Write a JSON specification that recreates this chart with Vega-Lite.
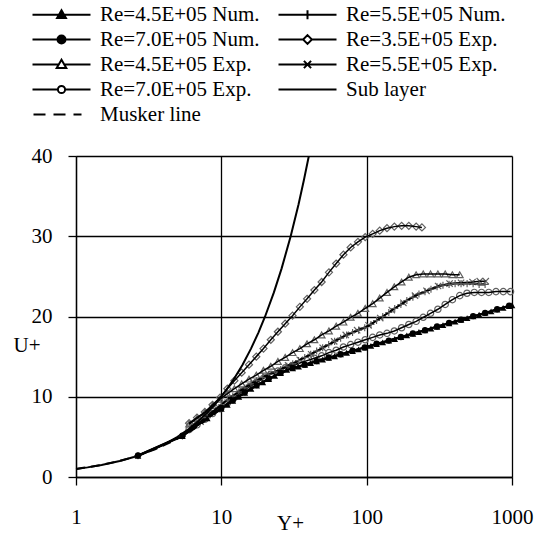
{
  "$schema": "https://vega.github.io/schema/vega-lite/v6.json",
  "autosize": {"type": "none"},
  "padding": {"left": 76, "top": 156, "right": 39, "bottom": 56},
  "width": 436,
  "height": 321,
  "background": "white",
  "config": {
    "view": {"stroke": null},
    "font": "'Liberation Serif', 'Times New Roman', serif",
    "legend": {
      "title": null, "orient": "none", "legendX": -44, "legendY": -152, "columns": 2, "direction": "horizontal",
      "symbolSize": 64, "symbolOffset": 19, "labelOffset": 28, "rowPadding": 3, "columnPadding": 14, "padding": 0,
      "symbolStrokeColor": "black", "symbolStrokeWidth": 2,
      "labelFont": "'Liberation Serif', 'Times New Roman', serif", "labelFontSize": 21, "labelColor": "black", "labelLimit": 0
    }
  },
  "datasets": {
    "curves": [
      {"s": "Sub layer", "x": 1, "u": 1}, {"s": "Sub layer", "x": 1.2, "u": 1.2}, {"s": "Sub layer", "x": 1.5, "u": 1.5}, {"s": "Sub layer", "x": 2, "u": 2}, {"s": "Sub layer", "x": 2.5, "u": 2.5}, {"s": "Sub layer", "x": 3, "u": 3}, {"s": "Sub layer", "x": 4, "u": 4}, {"s": "Sub layer", "x": 5, "u": 5}, {"s": "Sub layer", "x": 6, "u": 6}, {"s": "Sub layer", "x": 7, "u": 7}, {"s": "Sub layer", "x": 8, "u": 8}, {"s": "Sub layer", "x": 9, "u": 9}, {"s": "Sub layer", "x": 10, "u": 10}, {"s": "Sub layer", "x": 12, "u": 12}, {"s": "Sub layer", "x": 14, "u": 14}, {"s": "Sub layer", "x": 16, "u": 16}, {"s": "Sub layer", "x": 18, "u": 18}, {"s": "Sub layer", "x": 20, "u": 20}, {"s": "Sub layer", "x": 23, "u": 23}, {"s": "Sub layer", "x": 26, "u": 26}, {"s": "Sub layer", "x": 30, "u": 30}, {"s": "Sub layer", "x": 34, "u": 34}, {"s": "Sub layer", "x": 37, "u": 37}, {"s": "Sub layer", "x": 40, "u": 40},

      {"s": "Musker line", "x": 1, "u": 1.0}, {"s": "Musker line", "x": 1.5, "u": 1.5}, {"s": "Musker line", "x": 2, "u": 2.0}, {"s": "Musker line", "x": 2.67, "u": 2.65}, {"s": "Musker line", "x": 3.5, "u": 3.45}, {"s": "Musker line", "x": 4.5, "u": 4.35}, {"s": "Musker line", "x": 5.4, "u": 5.1}, {"s": "Musker line", "x": 6.5, "u": 6.0}, {"s": "Musker line", "x": 8, "u": 7.2}, {"s": "Musker line", "x": 10, "u": 8.5}, {"s": "Musker line", "x": 13.2, "u": 10.0}, {"s": "Musker line", "x": 17.5, "u": 11.4}, {"s": "Musker line", "x": 23.3, "u": 12.6}, {"s": "Musker line", "x": 31, "u": 13.55}, {"s": "Musker line", "x": 41.2, "u": 14.2}, {"s": "Musker line", "x": 54.8, "u": 14.84}, {"s": "Musker line", "x": 72.8, "u": 15.48}, {"s": "Musker line", "x": 97, "u": 16.13}, {"s": "Musker line", "x": 129, "u": 16.78}, {"s": "Musker line", "x": 172, "u": 17.43}, {"s": "Musker line", "x": 229, "u": 18.07}, {"s": "Musker line", "x": 305, "u": 18.72}, {"s": "Musker line", "x": 406, "u": 19.37}, {"s": "Musker line", "x": 540, "u": 20.01}, {"s": "Musker line", "x": 718, "u": 20.65}, {"s": "Musker line", "x": 956, "u": 21.3}, {"s": "Musker line", "x": 1000, "u": 21.4},

      {"s": "Re=4.5E+05 Num.", "x": 2.67, "u": 2.65}, {"s": "Re=4.5E+05 Num.", "x": 5.4, "u": 5.1}, {"s": "Re=4.5E+05 Num.", "x": 8, "u": 7.3}, {"s": "Re=4.5E+05 Num.", "x": 10, "u": 8.5}, {"s": "Re=4.5E+05 Num.", "x": 11, "u": 9.0}, {"s": "Re=4.5E+05 Num.", "x": 12, "u": 9.5}, {"s": "Re=4.5E+05 Num.", "x": 13.2, "u": 10.0}, {"s": "Re=4.5E+05 Num.", "x": 14.5, "u": 10.5}, {"s": "Re=4.5E+05 Num.", "x": 16, "u": 11.0}, {"s": "Re=4.5E+05 Num.", "x": 17.5, "u": 11.4}, {"s": "Re=4.5E+05 Num.", "x": 19.3, "u": 11.8}, {"s": "Re=4.5E+05 Num.", "x": 21.2, "u": 12.2}, {"s": "Re=4.5E+05 Num.", "x": 23.3, "u": 12.6}, {"s": "Re=4.5E+05 Num.", "x": 25.6, "u": 12.95}, {"s": "Re=4.5E+05 Num.", "x": 28.2, "u": 13.34}, {"s": "Re=4.5E+05 Num.", "x": 31, "u": 13.55}, {"s": "Re=4.5E+05 Num.", "x": 34, "u": 13.76}, {"s": "Re=4.5E+05 Num.", "x": 37.5, "u": 13.98}, {"s": "Re=4.5E+05 Num.", "x": 41.2, "u": 14.2}, {"s": "Re=4.5E+05 Num.", "x": 45.3, "u": 14.41}, {"s": "Re=4.5E+05 Num.", "x": 49.8, "u": 14.63}, {"s": "Re=4.5E+05 Num.", "x": 54.8, "u": 14.84}, {"s": "Re=4.5E+05 Num.", "x": 60.2, "u": 15.05}, {"s": "Re=4.5E+05 Num.", "x": 66.2, "u": 15.27}, {"s": "Re=4.5E+05 Num.", "x": 72.8, "u": 15.48}, {"s": "Re=4.5E+05 Num.", "x": 80, "u": 15.7}, {"s": "Re=4.5E+05 Num.", "x": 88, "u": 15.91}, {"s": "Re=4.5E+05 Num.", "x": 97, "u": 16.13}, {"s": "Re=4.5E+05 Num.", "x": 107, "u": 16.35}, {"s": "Re=4.5E+05 Num.", "x": 117, "u": 16.55}, {"s": "Re=4.5E+05 Num.", "x": 129, "u": 16.78}, {"s": "Re=4.5E+05 Num.", "x": 142, "u": 16.99}, {"s": "Re=4.5E+05 Num.", "x": 156, "u": 17.2}, {"s": "Re=4.5E+05 Num.", "x": 172, "u": 17.43}, {"s": "Re=4.5E+05 Num.", "x": 189, "u": 17.64}, {"s": "Re=4.5E+05 Num.", "x": 208, "u": 17.85}, {"s": "Re=4.5E+05 Num.", "x": 229, "u": 18.07}, {"s": "Re=4.5E+05 Num.", "x": 252, "u": 18.29}, {"s": "Re=4.5E+05 Num.", "x": 277, "u": 18.5}, {"s": "Re=4.5E+05 Num.", "x": 305, "u": 18.72}, {"s": "Re=4.5E+05 Num.", "x": 335, "u": 18.93}, {"s": "Re=4.5E+05 Num.", "x": 369, "u": 19.15}, {"s": "Re=4.5E+05 Num.", "x": 406, "u": 19.37}, {"s": "Re=4.5E+05 Num.", "x": 446, "u": 19.58}, {"s": "Re=4.5E+05 Num.", "x": 491, "u": 19.79}, {"s": "Re=4.5E+05 Num.", "x": 540, "u": 20.01}, {"s": "Re=4.5E+05 Num.", "x": 594, "u": 20.22}, {"s": "Re=4.5E+05 Num.", "x": 653, "u": 20.44}, {"s": "Re=4.5E+05 Num.", "x": 718, "u": 20.65}, {"s": "Re=4.5E+05 Num.", "x": 790, "u": 20.87}, {"s": "Re=4.5E+05 Num.", "x": 869, "u": 21.08}, {"s": "Re=4.5E+05 Num.", "x": 956, "u": 21.3}, {"s": "Re=4.5E+05 Num.", "x": 1000, "u": 21.4},

      {"s": "Re=7.0E+05 Num.", "x": 2.67, "u": 2.7}, {"s": "Re=7.0E+05 Num.", "x": 5.4, "u": 5.15}, {"s": "Re=7.0E+05 Num.", "x": 10, "u": 8.6}, {"s": "Re=7.0E+05 Num.", "x": 12, "u": 9.55}, {"s": "Re=7.0E+05 Num.", "x": 14.5, "u": 10.55}, {"s": "Re=7.0E+05 Num.", "x": 17.5, "u": 11.45}, {"s": "Re=7.0E+05 Num.", "x": 21.2, "u": 12.25}, {"s": "Re=7.0E+05 Num.", "x": 25.6, "u": 13.0}, {"s": "Re=7.0E+05 Num.", "x": 31, "u": 13.6}, {"s": "Re=7.0E+05 Num.", "x": 37.5, "u": 14.0}, {"s": "Re=7.0E+05 Num.", "x": 45.3, "u": 14.45}, {"s": "Re=7.0E+05 Num.", "x": 54.8, "u": 14.9}, {"s": "Re=7.0E+05 Num.", "x": 66.2, "u": 15.3}, {"s": "Re=7.0E+05 Num.", "x": 80, "u": 15.75}, {"s": "Re=7.0E+05 Num.", "x": 97, "u": 16.15}, {"s": "Re=7.0E+05 Num.", "x": 117, "u": 16.6}, {"s": "Re=7.0E+05 Num.", "x": 142, "u": 17.0}, {"s": "Re=7.0E+05 Num.", "x": 172, "u": 17.45}, {"s": "Re=7.0E+05 Num.", "x": 208, "u": 17.9}, {"s": "Re=7.0E+05 Num.", "x": 252, "u": 18.3}, {"s": "Re=7.0E+05 Num.", "x": 305, "u": 18.75}, {"s": "Re=7.0E+05 Num.", "x": 369, "u": 19.2}, {"s": "Re=7.0E+05 Num.", "x": 446, "u": 19.6}, {"s": "Re=7.0E+05 Num.", "x": 540, "u": 20.05}, {"s": "Re=7.0E+05 Num.", "x": 653, "u": 20.45}, {"s": "Re=7.0E+05 Num.", "x": 790, "u": 20.9}, {"s": "Re=7.0E+05 Num.", "x": 956, "u": 21.35},

      {"s": "Re=5.5E+05 Num.", "x": 2.67, "u": 2.65}, {"s": "Re=5.5E+05 Num.", "x": 5.4, "u": 5.1}, {"s": "Re=5.5E+05 Num.", "x": 8, "u": 7.4}, {"s": "Re=5.5E+05 Num.", "x": 10, "u": 9.0}, {"s": "Re=5.5E+05 Num.", "x": 11, "u": 9.6}, {"s": "Re=5.5E+05 Num.", "x": 12, "u": 10.1}, {"s": "Re=5.5E+05 Num.", "x": 13.2, "u": 10.6}, {"s": "Re=5.5E+05 Num.", "x": 14.5, "u": 11.1}, {"s": "Re=5.5E+05 Num.", "x": 16, "u": 11.6}, {"s": "Re=5.5E+05 Num.", "x": 17.5, "u": 12.0}, {"s": "Re=5.5E+05 Num.", "x": 19.3, "u": 12.4}, {"s": "Re=5.5E+05 Num.", "x": 21.2, "u": 12.8}, {"s": "Re=5.5E+05 Num.", "x": 23.3, "u": 13.1}, {"s": "Re=5.5E+05 Num.", "x": 25.6, "u": 13.4}, {"s": "Re=5.5E+05 Num.", "x": 28.2, "u": 13.8}, {"s": "Re=5.5E+05 Num.", "x": 31, "u": 14.1}, {"s": "Re=5.5E+05 Num.", "x": 34, "u": 14.5}, {"s": "Re=5.5E+05 Num.", "x": 37.5, "u": 14.9}, {"s": "Re=5.5E+05 Num.", "x": 41.2, "u": 15.3}, {"s": "Re=5.5E+05 Num.", "x": 45.3, "u": 15.7}, {"s": "Re=5.5E+05 Num.", "x": 49.8, "u": 16.1}, {"s": "Re=5.5E+05 Num.", "x": 54.8, "u": 16.5}, {"s": "Re=5.5E+05 Num.", "x": 60.2, "u": 16.9}, {"s": "Re=5.5E+05 Num.", "x": 66.2, "u": 17.3}, {"s": "Re=5.5E+05 Num.", "x": 72.8, "u": 17.7}, {"s": "Re=5.5E+05 Num.", "x": 80, "u": 18.0}, {"s": "Re=5.5E+05 Num.", "x": 88, "u": 18.3}, {"s": "Re=5.5E+05 Num.", "x": 97, "u": 18.6}, {"s": "Re=5.5E+05 Num.", "x": 107, "u": 19.0}, {"s": "Re=5.5E+05 Num.", "x": 117, "u": 19.5}, {"s": "Re=5.5E+05 Num.", "x": 129, "u": 20.0}, {"s": "Re=5.5E+05 Num.", "x": 142, "u": 20.5}, {"s": "Re=5.5E+05 Num.", "x": 156, "u": 21.0}, {"s": "Re=5.5E+05 Num.", "x": 172, "u": 21.5}, {"s": "Re=5.5E+05 Num.", "x": 189, "u": 22.0}, {"s": "Re=5.5E+05 Num.", "x": 208, "u": 22.4}, {"s": "Re=5.5E+05 Num.", "x": 229, "u": 22.8}, {"s": "Re=5.5E+05 Num.", "x": 252, "u": 23.1}, {"s": "Re=5.5E+05 Num.", "x": 277, "u": 23.4}, {"s": "Re=5.5E+05 Num.", "x": 305, "u": 23.7}, {"s": "Re=5.5E+05 Num.", "x": 335, "u": 23.9}, {"s": "Re=5.5E+05 Num.", "x": 369, "u": 24.0}, {"s": "Re=5.5E+05 Num.", "x": 406, "u": 24.1}, {"s": "Re=5.5E+05 Num.", "x": 446, "u": 24.1}, {"s": "Re=5.5E+05 Num.", "x": 491, "u": 24.1}, {"s": "Re=5.5E+05 Num.", "x": 540, "u": 24.1}, {"s": "Re=5.5E+05 Num.", "x": 594, "u": 24.0}, {"s": "Re=5.5E+05 Num.", "x": 653, "u": 24.0},

      {"s": "Re=3.5E+05 Exp.", "x": 6.0, "u": 6.7}, {"s": "Re=3.5E+05 Exp.", "x": 6.8, "u": 7.4}, {"s": "Re=3.5E+05 Exp.", "x": 7.7, "u": 8.1}, {"s": "Re=3.5E+05 Exp.", "x": 8.7, "u": 9.0}, {"s": "Re=3.5E+05 Exp.", "x": 9.8, "u": 9.9}, {"s": "Re=3.5E+05 Exp.", "x": 11.0, "u": 11.0}, {"s": "Re=3.5E+05 Exp.", "x": 12.3, "u": 12.0}, {"s": "Re=3.5E+05 Exp.", "x": 13.8, "u": 13.0}, {"s": "Re=3.5E+05 Exp.", "x": 15.5, "u": 14.0}, {"s": "Re=3.5E+05 Exp.", "x": 17.4, "u": 15.0}, {"s": "Re=3.5E+05 Exp.", "x": 19.5, "u": 16.0}, {"s": "Re=3.5E+05 Exp.", "x": 21.9, "u": 17.1}, {"s": "Re=3.5E+05 Exp.", "x": 24.5, "u": 18.1}, {"s": "Re=3.5E+05 Exp.", "x": 27.5, "u": 19.1}, {"s": "Re=3.5E+05 Exp.", "x": 30.9, "u": 20.1}, {"s": "Re=3.5E+05 Exp.", "x": 34.7, "u": 21.2}, {"s": "Re=3.5E+05 Exp.", "x": 38.9, "u": 22.2}, {"s": "Re=3.5E+05 Exp.", "x": 43.7, "u": 23.3}, {"s": "Re=3.5E+05 Exp.", "x": 49.0, "u": 24.3}, {"s": "Re=3.5E+05 Exp.", "x": 55.0, "u": 25.5}, {"s": "Re=3.5E+05 Exp.", "x": 61.7, "u": 26.6}, {"s": "Re=3.5E+05 Exp.", "x": 69.2, "u": 27.7}, {"s": "Re=3.5E+05 Exp.", "x": 77.6, "u": 28.6}, {"s": "Re=3.5E+05 Exp.", "x": 87.1, "u": 29.3}, {"s": "Re=3.5E+05 Exp.", "x": 97.7, "u": 29.9}, {"s": "Re=3.5E+05 Exp.", "x": 110, "u": 30.3}, {"s": "Re=3.5E+05 Exp.", "x": 123, "u": 30.7}, {"s": "Re=3.5E+05 Exp.", "x": 138, "u": 31.0}, {"s": "Re=3.5E+05 Exp.", "x": 155, "u": 31.2}, {"s": "Re=3.5E+05 Exp.", "x": 174, "u": 31.3}, {"s": "Re=3.5E+05 Exp.", "x": 195, "u": 31.3}, {"s": "Re=3.5E+05 Exp.", "x": 219, "u": 31.2}, {"s": "Re=3.5E+05 Exp.", "x": 240, "u": 31.1},

      {"s": "Re=4.5E+05 Exp.", "x": 6.0, "u": 6.6}, {"s": "Re=4.5E+05 Exp.", "x": 6.8, "u": 7.3}, {"s": "Re=4.5E+05 Exp.", "x": 7.7, "u": 8.0}, {"s": "Re=4.5E+05 Exp.", "x": 8.7, "u": 8.9}, {"s": "Re=4.5E+05 Exp.", "x": 9.8, "u": 9.7}, {"s": "Re=4.5E+05 Exp.", "x": 11.0, "u": 10.4}, {"s": "Re=4.5E+05 Exp.", "x": 12.3, "u": 11.0}, {"s": "Re=4.5E+05 Exp.", "x": 13.8, "u": 11.6}, {"s": "Re=4.5E+05 Exp.", "x": 15.5, "u": 12.2}, {"s": "Re=4.5E+05 Exp.", "x": 17.4, "u": 12.7}, {"s": "Re=4.5E+05 Exp.", "x": 19.5, "u": 13.3}, {"s": "Re=4.5E+05 Exp.", "x": 21.9, "u": 13.8}, {"s": "Re=4.5E+05 Exp.", "x": 24.5, "u": 14.4}, {"s": "Re=4.5E+05 Exp.", "x": 27.5, "u": 14.9}, {"s": "Re=4.5E+05 Exp.", "x": 30.9, "u": 15.5}, {"s": "Re=4.5E+05 Exp.", "x": 34.7, "u": 16.0}, {"s": "Re=4.5E+05 Exp.", "x": 38.9, "u": 16.6}, {"s": "Re=4.5E+05 Exp.", "x": 43.7, "u": 17.1}, {"s": "Re=4.5E+05 Exp.", "x": 49.0, "u": 17.7}, {"s": "Re=4.5E+05 Exp.", "x": 55.0, "u": 18.2}, {"s": "Re=4.5E+05 Exp.", "x": 61.7, "u": 18.8}, {"s": "Re=4.5E+05 Exp.", "x": 69.2, "u": 19.3}, {"s": "Re=4.5E+05 Exp.", "x": 77.6, "u": 19.9}, {"s": "Re=4.5E+05 Exp.", "x": 87.1, "u": 20.4}, {"s": "Re=4.5E+05 Exp.", "x": 97.7, "u": 21.0}, {"s": "Re=4.5E+05 Exp.", "x": 110, "u": 21.6}, {"s": "Re=4.5E+05 Exp.", "x": 123, "u": 22.3}, {"s": "Re=4.5E+05 Exp.", "x": 138, "u": 23.0}, {"s": "Re=4.5E+05 Exp.", "x": 155, "u": 23.7}, {"s": "Re=4.5E+05 Exp.", "x": 174, "u": 24.3}, {"s": "Re=4.5E+05 Exp.", "x": 195, "u": 24.9}, {"s": "Re=4.5E+05 Exp.", "x": 219, "u": 25.2}, {"s": "Re=4.5E+05 Exp.", "x": 245, "u": 25.3}, {"s": "Re=4.5E+05 Exp.", "x": 275, "u": 25.3}, {"s": "Re=4.5E+05 Exp.", "x": 309, "u": 25.3}, {"s": "Re=4.5E+05 Exp.", "x": 347, "u": 25.3}, {"s": "Re=4.5E+05 Exp.", "x": 389, "u": 25.2}, {"s": "Re=4.5E+05 Exp.", "x": 437, "u": 25.2},

      {"s": "Re=5.5E+05 Exp.", "x": 6.2, "u": 6.3}, {"s": "Re=5.5E+05 Exp.", "x": 7.2, "u": 6.9}, {"s": "Re=5.5E+05 Exp.", "x": 8.3, "u": 7.9}, {"s": "Re=5.5E+05 Exp.", "x": 9.5, "u": 8.7}, {"s": "Re=5.5E+05 Exp.", "x": 11.5, "u": 9.9}, {"s": "Re=5.5E+05 Exp.", "x": 13.8, "u": 10.9}, {"s": "Re=5.5E+05 Exp.", "x": 16.6, "u": 11.8}, {"s": "Re=5.5E+05 Exp.", "x": 20, "u": 12.6}, {"s": "Re=5.5E+05 Exp.", "x": 24, "u": 13.2}, {"s": "Re=5.5E+05 Exp.", "x": 28.8, "u": 13.9}, {"s": "Re=5.5E+05 Exp.", "x": 34.6, "u": 14.6}, {"s": "Re=5.5E+05 Exp.", "x": 41.5, "u": 15.3}, {"s": "Re=5.5E+05 Exp.", "x": 49.8, "u": 16.1}, {"s": "Re=5.5E+05 Exp.", "x": 59.8, "u": 16.9}, {"s": "Re=5.5E+05 Exp.", "x": 71.8, "u": 17.7}, {"s": "Re=5.5E+05 Exp.", "x": 86, "u": 18.3}, {"s": "Re=5.5E+05 Exp.", "x": 103, "u": 18.9}, {"s": "Re=5.5E+05 Exp.", "x": 124, "u": 19.8}, {"s": "Re=5.5E+05 Exp.", "x": 149, "u": 20.8}, {"s": "Re=5.5E+05 Exp.", "x": 179, "u": 21.7}, {"s": "Re=5.5E+05 Exp.", "x": 215, "u": 22.6}, {"s": "Re=5.5E+05 Exp.", "x": 258, "u": 23.2}, {"s": "Re=5.5E+05 Exp.", "x": 310, "u": 23.8}, {"s": "Re=5.5E+05 Exp.", "x": 372, "u": 24.1}, {"s": "Re=5.5E+05 Exp.", "x": 446, "u": 24.2}, {"s": "Re=5.5E+05 Exp.", "x": 535, "u": 24.3}, {"s": "Re=5.5E+05 Exp.", "x": 600, "u": 24.4}, {"s": "Re=5.5E+05 Exp.", "x": 660, "u": 24.4},

      {"s": "Re=7.0E+05 Exp.", "x": 6.0, "u": 5.9}, {"s": "Re=7.0E+05 Exp.", "x": 6.8, "u": 6.5}, {"s": "Re=7.0E+05 Exp.", "x": 7.7, "u": 7.2}, {"s": "Re=7.0E+05 Exp.", "x": 8.7, "u": 7.9}, {"s": "Re=7.0E+05 Exp.", "x": 9.8, "u": 8.5}, {"s": "Re=7.0E+05 Exp.", "x": 11.0, "u": 9.2}, {"s": "Re=7.0E+05 Exp.", "x": 12.3, "u": 9.9}, {"s": "Re=7.0E+05 Exp.", "x": 13.8, "u": 10.6}, {"s": "Re=7.0E+05 Exp.", "x": 15.5, "u": 11.2}, {"s": "Re=7.0E+05 Exp.", "x": 17.4, "u": 11.8}, {"s": "Re=7.0E+05 Exp.", "x": 19.5, "u": 12.3}, {"s": "Re=7.0E+05 Exp.", "x": 21.9, "u": 12.8}, {"s": "Re=7.0E+05 Exp.", "x": 24.5, "u": 13.2}, {"s": "Re=7.0E+05 Exp.", "x": 27.5, "u": 13.6}, {"s": "Re=7.0E+05 Exp.", "x": 30.9, "u": 13.9}, {"s": "Re=7.0E+05 Exp.", "x": 34.7, "u": 14.2}, {"s": "Re=7.0E+05 Exp.", "x": 38.9, "u": 14.5}, {"s": "Re=7.0E+05 Exp.", "x": 43.7, "u": 14.8}, {"s": "Re=7.0E+05 Exp.", "x": 49.0, "u": 15.1}, {"s": "Re=7.0E+05 Exp.", "x": 55.0, "u": 15.5}, {"s": "Re=7.0E+05 Exp.", "x": 61.7, "u": 15.8}, {"s": "Re=7.0E+05 Exp.", "x": 69.2, "u": 16.2}, {"s": "Re=7.0E+05 Exp.", "x": 77.6, "u": 16.5}, {"s": "Re=7.0E+05 Exp.", "x": 87.1, "u": 16.8}, {"s": "Re=7.0E+05 Exp.", "x": 97.7, "u": 17.1}, {"s": "Re=7.0E+05 Exp.", "x": 110, "u": 17.4}, {"s": "Re=7.0E+05 Exp.", "x": 123, "u": 17.7}, {"s": "Re=7.0E+05 Exp.", "x": 138, "u": 17.9}, {"s": "Re=7.0E+05 Exp.", "x": 155, "u": 18.2}, {"s": "Re=7.0E+05 Exp.", "x": 174, "u": 18.6}, {"s": "Re=7.0E+05 Exp.", "x": 195, "u": 19.0}, {"s": "Re=7.0E+05 Exp.", "x": 219, "u": 19.4}, {"s": "Re=7.0E+05 Exp.", "x": 245, "u": 19.9}, {"s": "Re=7.0E+05 Exp.", "x": 275, "u": 20.4}, {"s": "Re=7.0E+05 Exp.", "x": 309, "u": 20.9}, {"s": "Re=7.0E+05 Exp.", "x": 347, "u": 21.5}, {"s": "Re=7.0E+05 Exp.", "x": 389, "u": 22.1}, {"s": "Re=7.0E+05 Exp.", "x": 437, "u": 22.6}, {"s": "Re=7.0E+05 Exp.", "x": 490, "u": 22.9}, {"s": "Re=7.0E+05 Exp.", "x": 550, "u": 23.0}, {"s": "Re=7.0E+05 Exp.", "x": 617, "u": 23.0}, {"s": "Re=7.0E+05 Exp.", "x": 692, "u": 23.0}, {"s": "Re=7.0E+05 Exp.", "x": 776, "u": 23.1}, {"s": "Re=7.0E+05 Exp.", "x": 871, "u": 23.1}, {"s": "Re=7.0E+05 Exp.", "x": 977, "u": 23.1}
    ]
  },
  "data": {"name": "curves"},
  "encoding": {
    "x": {
      "field": "x", "type": "quantitative",
      "scale": {"type": "log", "domain": [1, 1000], "nice": false},
      "axis": {
        "values": [1, 10, 100, 1000], "format": "d",
        "title": "Y+", "titleFont": "'Liberation Serif', 'Times New Roman', serif", "titleFontSize": 21, "titleFontWeight": "normal", "titleColor": "black",
        "titleX": 214, "titleY": 52, "titleAlign": "center", "titleBaseline": "alphabetic",
        "labelFont": "'Liberation Serif', 'Times New Roman', serif", "labelFontSize": 21, "labelColor": "black", "labelPadding": 21, "labelFlush": false, "labelOverlap": false, "labelBound": false,
        "tickSize": 8, "tickColor": "black", "tickWidth": 1.3,
        "domainColor": "black", "domainWidth": 1.3,
        "grid": true, "gridColor": "black", "gridWidth": 1.3, "gridOpacity": 1
      }
    },
    "y": {
      "field": "u", "type": "quantitative",
      "scale": {"domain": [0, 40], "nice": false},
      "axis": {
        "values": [0, 10, 20, 30, 40],
        "title": "U+", "titleFont": "'Liberation Serif', 'Times New Roman', serif", "titleFontSize": 21, "titleFontWeight": "normal", "titleColor": "black",
        "titleAngle": 0, "titleX": -63, "titleY": 189, "titleAlign": "left", "titleBaseline": "middle",
        "labelFont": "'Liberation Serif', 'Times New Roman', serif", "labelFontSize": 21, "labelColor": "black", "labelPadding": 16,
        "tickSize": 8, "tickColor": "black", "tickWidth": 1.3,
        "domainColor": "black", "domainWidth": 1.3,
        "grid": true, "gridColor": "black", "gridWidth": 1.3, "gridOpacity": 1
      }
    }
  },
  "layer": [
    {
      "transform": [{"filter": {"field": "s", "equal": "Re=3.5E+05 Exp."}}],
      "mark": {"type": "point", "shape": "diamond", "size": 50, "filled": false, "stroke": "#606060", "strokeWidth": 1.2, "opacity": 1}
    },
    {
      "transform": [{"filter": {"field": "s", "equal": "Re=4.5E+05 Exp."}}],
      "mark": {"type": "point", "shape": "triangle-up", "size": 45, "filled": false, "stroke": "#606060", "strokeWidth": 1.2, "opacity": 1}
    },
    {
      "transform": [{"filter": {"field": "s", "equal": "Re=5.5E+05 Exp."}}],
      "mark": {"type": "point", "shape": "M-1,-1L1,1M-1,1L1,-1", "size": 40, "filled": false, "stroke": "#606060", "strokeWidth": 1.2, "opacity": 1}
    },
    {
      "transform": [{"filter": {"field": "s", "equal": "Re=7.0E+05 Exp."}}],
      "mark": {"type": "point", "shape": "circle", "size": 40, "filled": false, "stroke": "#606060", "strokeWidth": 1.2, "opacity": 1}
    },
    {
      "transform": [{"filter": {"field": "s", "oneOf": ["Re=3.5E+05 Exp.", "Re=4.5E+05 Exp.", "Re=5.5E+05 Exp.", "Re=7.0E+05 Exp."]}}],
      "mark": {"type": "line", "color": "black", "strokeWidth": 1.5},
      "encoding": {"detail": {"field": "s"}}
    },
    {
      "transform": [{"filter": {"field": "s", "equal": "Musker line"}}],
      "mark": {"type": "line", "color": "black", "strokeWidth": 2, "strokeDash": [9, 6]},
      "encoding": {}
    },
    {
      "transform": [{"filter": {"field": "s", "oneOf": ["Re=4.5E+05 Num.", "Re=5.5E+05 Num.", "Re=7.0E+05 Num.", "Sub layer"]}}],
      "mark": {"type": "line", "color": "black", "strokeWidth": 2, "clip": true},
      "encoding": {"detail": {"field": "s"}}
    },
    {
      "transform": [{"filter": {"field": "s", "equal": "Re=5.5E+05 Num."}}],
      "mark": {"type": "point", "shape": "M-1,0H1M0,-1V1", "size": 50, "filled": false, "stroke": "#555555", "strokeWidth": 1.1, "opacity": 1}
    },
    {
      "transform": [{"filter": {"field": "s", "equal": "Re=7.0E+05 Num."}}],
      "mark": {"type": "point", "shape": "circle", "size": 40, "filled": true, "color": "black", "opacity": 1}
    },
    {
      "transform": [{"filter": {"field": "s", "equal": "Re=4.5E+05 Num."}}],
      "mark": {"type": "point", "shape": "triangle-up", "size": 45, "filled": true, "color": "black", "opacity": 1}
    },
    {
      "transform": [{"filter": "datum.x < 0"}],
      "mark": {"type": "point", "filled": true, "strokeWidth": 2, "opacity": 1},
      "encoding": {
        "shape": {
          "field": "s", "type": "nominal",
          "scale": {
            "domain": ["Re=4.5E+05 Num.", "Re=5.5E+05 Num.", "Re=7.0E+05 Num.", "Re=3.5E+05 Exp.", "Re=4.5E+05 Exp.", "Re=5.5E+05 Exp.", "Re=7.0E+05 Exp.", "Sub layer", "Musker line"],
            "range": [
              "M-7.25,0H7.25M0,-1.1L1.1,0.8L-1.1,0.8Z",
              "M-7.25,0H7.25M0,-1.1V1.1",
              "M-7.25,0H7.25M1,0A1,1,0,1,1,-1,0A1,1,0,1,1,1,0Z",
              "M-7.25,0H-1.1M1.1,0H7.25M0,-1.1L1.1,0L0,1.1L-1.1,0Z",
              "M-7.25,0H-0.7M0.7,0H7.25M0,-1.2L1.2,0.9L-1.2,0.9Z",
              "M-7.25,0H7.25M-0.9,-0.9L0.9,0.9M-0.9,0.9L0.9,-0.9",
              "M-7.25,0H-0.9M0.9,0H7.25M0.9,0A0.9,0.9,0,1,1,-0.9,0A0.9,0.9,0,1,1,0.9,0Z",
              "M-7.25,0H7.25",
              "M-7,0H-4M-2,0H1M3,0H5"
            ]
          },
          "legend": {}
        },
        "fill": {
          "field": "s", "type": "nominal",
          "scale": {
            "domain": ["Re=4.5E+05 Num.", "Re=5.5E+05 Num.", "Re=7.0E+05 Num.", "Re=3.5E+05 Exp.", "Re=4.5E+05 Exp.", "Re=5.5E+05 Exp.", "Re=7.0E+05 Exp.", "Sub layer", "Musker line"],
            "range": ["black", "black", "black", "white", "white", "black", "white", "black", "black"]
          },
          "legend": {}
        },
        "stroke": {
          "field": "s", "type": "nominal",
          "scale": {
            "domain": ["Re=4.5E+05 Num.", "Re=5.5E+05 Num.", "Re=7.0E+05 Num.", "Re=3.5E+05 Exp.", "Re=4.5E+05 Exp.", "Re=5.5E+05 Exp.", "Re=7.0E+05 Exp.", "Sub layer", "Musker line"],
            "range": ["black", "black", "black", "black", "black", "black", "black", "black", "black"]
          },
          "legend": {}
        }
      }
    }
  ]
}
